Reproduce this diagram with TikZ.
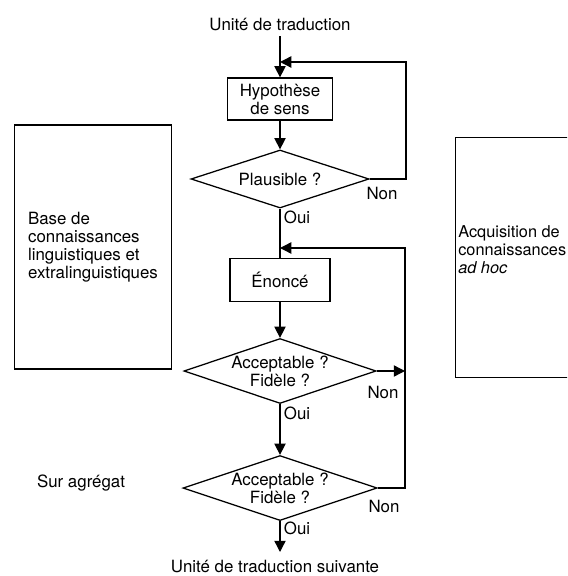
\documentclass[tikz,border=0pt]{standalone}
\usepackage{fontspec}
\setmainfont{TeX Gyre Heros}
\usetikzlibrary{shapes.geometric,arrows.meta}

\tikzset{
	line/.style={line width=1pt},
	flow/.style={line width=1pt, -{Triangle[length=8pt,width=8pt]}},
	box/.style={rectangle, draw, line width=0.9pt, align=center},
	test/.style={diamond, draw, line width=0.9pt, align=center, aspect=3, inner sep=0pt},
}

\begin{document}
\begin{tikzpicture}[x=0.025cm, y=-0.025cm, font=\fontsize{12}{12.8}\selectfont]
	\useasboundingbox (0,0) rectangle (567,576);
	\clip (0,0) rectangle (567,576);

	% side boxes
	\node[box, align=left, minimum width=3.925cm, minimum height=6.1cm] (base) at (93,247) {Base de\\connaissances\\linguistiques et\\extralinguistiques};
	\node[box, anchor=north west, minimum width=3.5cm, minimum height=6cm] (acq) at (455,137) {};
	\node[anchor=west, align=left, inner sep=0pt, font=\fontsize{11.6}{12.8}\selectfont] (acqtext) at (458,250) {Acquisition de\\connaissances\\\textit{ad hoc}};
	\node (agr) at (81,483) {Sur agrégat};

	% main chain
	\node (start) at (280,25) {Unité de traduction};
	\node[box, minimum width=2.625cm, minimum height=1.05cm] (hyp) at (280,99) {Hypothèse\\de sens};
	\node[test, minimum width=4.45cm, minimum height=1.45cm] (d1) at (280,179) {Plausible ?};
	\node[box, minimum width=2.5cm, minimum height=1.075cm] (enonce) at (280,280) {Énoncé};
	\node[test, minimum width=4.8cm, minimum height=1.625cm] (d2) at (280,371) {Acceptable ?\\Fidèle ?};
	\node[test, minimum width=4.85cm, minimum height=1.625cm] (d3) at (280,488) {Acceptable ?\\Fidèle ?};
	\coordinate (stop) at (280,552);
	\node (next) at (275,566) {Unité de traduction suivante};

	% loop points
	\coordinate (j1) at (280,62);
	\coordinate (j2) at (280,248);
	\coordinate (rail1) at (406,62);
	\coordinate (rail2) at (405,248);

	% Draw the connectors
	\draw[flow] (start) -- (hyp);
	\draw[flow] (hyp) -- (d1);
	\draw[line] (d1) -- (enonce);
	\draw[flow] (enonce) -- (d2);
	\draw[flow] (d2) -- (d3);
	\draw[flow] (d3) -- (stop);
	\draw[flow] (d1.east) -| (rail1) -- (j1);
	\draw[flow] (d3.east) -| (rail2) -- (j2);
	\draw[flow] (d2.east) -- (d2.east -| rail2);

	% answers
	\node (non1) at (382,193) {Non};
	\node (oui1) at (297,217) {Oui};
	\node (non2) at (383,392) {Non};
	\node (oui2) at (297,413) {Oui};
	\node (non3) at (384,506) {Non};
	\node (oui3) at (297,528) {Oui};
\end{tikzpicture}
\end{document}
